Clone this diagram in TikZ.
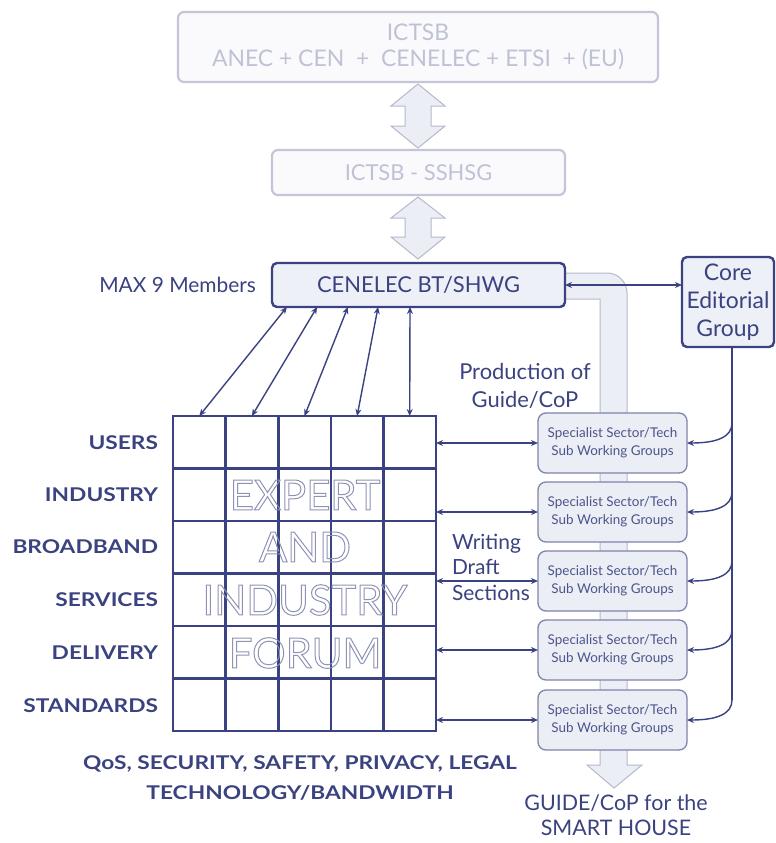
\documentclass[tikz,border=0pt]{standalone}
\usepackage{fontspec}
\setmainfont{Lato}
\usetikzlibrary{arrows.meta,calc}
\definecolor{navy}{HTML}{3A4282}
\definecolor{boxfill}{HTML}{EEF0F7}
\definecolor{ghostline}{HTML}{C3C6D8}
\definecolor{ghostfill}{HTML}{FAFAFD}
\definecolor{ghosttext}{HTML}{BFC2D4}
\definecolor{bandfill}{HTML}{ECEEF5}
\definecolor{bandline}{HTML}{B5B9CC}
\definecolor{spline}{HTML}{7E84AA}
\definecolor{spfill}{HTML}{ECEEF5}
\definecolor{sptext}{HTML}{4D548C}
\definecolor{hollowc}{HTML}{8E93B5}
\definecolor{labc}{HTML}{3A4380}
\newcommand{\hollowtxt}[1]{\special{pdf:literal direct 1 Tr 1 w}#1\special{pdf:literal direct 0 Tr}}
\newcommand{\fs}[1]{\fontsize{#1}{#1}\selectfont}
\newcommand{\wide}[1]{\scalebox{1.2}[1]{#1}}
\begin{document}
\begin{tikzpicture}[x=1bp,y=-1bp,
  every node/.style={inner sep=0pt,outer sep=0pt},
  ghostbox/.style={draw=ghostline,line width=2.2bp,fill=ghostfill,rounded corners=6bp,text=ghosttext,align=center},
  mainbox/.style={draw=navy,line width=2.4bp,fill=boxfill,rounded corners=5bp,text=labc,align=center},
  spbox/.style={draw=spline,line width=1.3bp,fill=spfill,rounded corners=8bp,minimum width=149bp,minimum height=60bp,align=center,font=\fs{13.5},text=sptext,execute at begin node={\setlength{\baselineskip}{18.5bp}}},
  fat/.style={draw=bandline,line width=1bp,fill=bandfill},
  conn/.style={draw=navy,line width=1.4bp},
  dbl/.style={conn,{Stealth[length=7bp,width=6bp]}-{Stealth[length=7bp,width=6bp]}},
  sgl/.style={conn,-{Stealth[length=7bp,width=6bp]}},
  lab/.style={text=labc,font=\fs{21}},
  rowlab/.style={text=labc,font=\bfseries\fs{19},anchor=east},
  hol/.style={text=hollowc,font=\fs{42}},
]
\useasboundingbox (0,0) rectangle (776,843);
\fill[white] (0,0) rectangle (776,843);

% top ghost boxes and fat double arrows
\node[ghostbox,minimum width=480bp,minimum height=70bp,font=\fs{23},execute at begin node={\setlength{\baselineskip}{26bp}}] (ictsb) at (418,47) {ICTSB\\ANEC + CEN \ + \ CENELEC + ETSI \ + (EU)};
\node[ghostbox,minimum width=293bp,minimum height=45bp,font=\fs{22}] (sshsg) at (418.5,172.5) {ICTSB - SSHSG};
\path[fat] (418,84) -- (445,106) -- (431,106) -- (431,126) -- (445,126) -- (418,148) -- (391,126) -- (405,126) -- (405,106) -- (391,106) -- cycle;
\path[fat] (418,197) -- (445,218) -- (431,218) -- (431,237) -- (445,237) -- (418,259) -- (391,237) -- (405,237) -- (405,218) -- (391,218) -- cycle;

% fat band from CENELEC down through the specialist groups
\path[fat] (560,273) -- (607,273) .. controls (618,273) and (627,282) .. (627,293) -- (627,765) -- (642,765) -- (614,788) -- (587,765) -- (600,765) -- (600,299) -- (560,299) -- cycle;

% main boxes
\node[mainbox,minimum width=293bp,minimum height=44bp,font=\fs{22}] (cen) at (418.5,285) {CENELEC BT/SHWG};
\node[mainbox,minimum width=92bp,minimum height=90bp,font=\fs{23},execute at begin node={\setlength{\baselineskip}{28bp}}] (core) at (728,302) {Core\\Editorial\\Group};
\node[lab,anchor=east] (max) at (256,285) {MAX 9 Members};

% specialist boxes
\foreach \i/\y in {1/443,2/512,3/581,4/650,5/720}{
  \node[spbox] (sp\i) at (612.5,\y) {Specialist Sector/Tech\\Sub Working Groups};
}

% grid
\node[minimum width=263bp,minimum height=315bp] (grid) at (304.5,573.5) {};
\foreach \k in {1,...,4}{
  \draw[navy,line width=2.6bp] ($(grid.north west)!\k/5!(grid.north east)$) -- ($(grid.south west)!\k/5!(grid.south east)$);
}
\foreach \k in {1,...,5}{
  \draw[navy,line width=2.6bp] ($(grid.north west)!\k/6!(grid.south west)$) -- ($(grid.north east)!\k/6!(grid.south east)$);
}
\draw[navy,line width=2.6bp] (grid.north west) rectangle (grid.south east);

% hollow words
\node[hol] (w1) at (305,495) {\hollowtxt{EXPERT}};
\node[hol] (w2) at (305,547) {\hollowtxt{AND}};
\node[hol] (w3) at (305,600) {\hollowtxt{INDUSTRY}};
\node[hol] (w4) at (305,653) {\hollowtxt{FORUM}};

% row labels
\node[rowlab] (r1) at (158,443) {\wide{USERS}};
\node[rowlab] (r2) at (158,495) {\wide{INDUSTRY}};
\node[rowlab] (r3) at (158,547) {\wide{BROADBAND}};
\node[rowlab] (r4) at (158,600) {\wide{SERVICES}};
\node[rowlab] (r5) at (158,653) {\wide{DELIVERY}};
\node[rowlab] (r6) at (158,706) {\wide{STANDARDS}};

% bottom labels
\node[text=labc,font=\bfseries\fs{19},align=center,execute at begin node={\setlength{\baselineskip}{30bp}}] (qos) at (300,778) {\wide{QoS, SECURITY, SAFETY, PRIVACY, LEGAL}\\\wide{TECHNOLOGY/BANDWIDTH}};
\node[lab,font=\fs{21.5},align=center,execute at begin node={\setlength{\baselineskip}{24.5bp}}] (guide) at (616,815) {GUIDE/CoP for the\\SMART HOUSE};
\node[lab,font=\fs{22},align=center,execute at begin node={\setlength{\baselineskip}{28bp}}] (prod) at (525,386) {Production of\\Guide/CoP};
\node[lab,font=\fs{21},align=left,anchor=west,execute at begin node={\setlength{\baselineskip}{25.5bp}}] (writ) at (452,567) {Writing\\Draft\\Sections};

% connectors CENELEC -> grid columns
\foreach \a/\b in {0.051/0.1,0.154/0.3,0.259/0.5,0.362/0.7,0.471/0.9}{
  \draw[dbl] ($(cen.south west)!\a!(cen.south east)$) -- ($(grid.north west)!\b!(grid.north east)$);
}
% CENELEC <-> Core
\draw[dbl] (cen.east) -- (cen.east -| core.west);
% grid <-> specialist
\foreach \i in {1,...,5}{
  \draw[dbl] (sp\i.west -| grid.east) -- (sp\i.west);
}
% Core -> specialist boxes
\coordinate (vtop) at (core.south -| 732,0);
\foreach \i in {1,...,5}{
  \coordinate (v\i) at ($(sp\i.east -| vtop)+(0,-20)$);
  \draw[sgl] (v\i) .. controls ($(v\i)+(0,14)$) and ($(sp\i.east)+(30,0)$) .. (sp\i.east);
}
\draw[conn] (vtop) -- (v5);
\end{tikzpicture}
\end{document}
